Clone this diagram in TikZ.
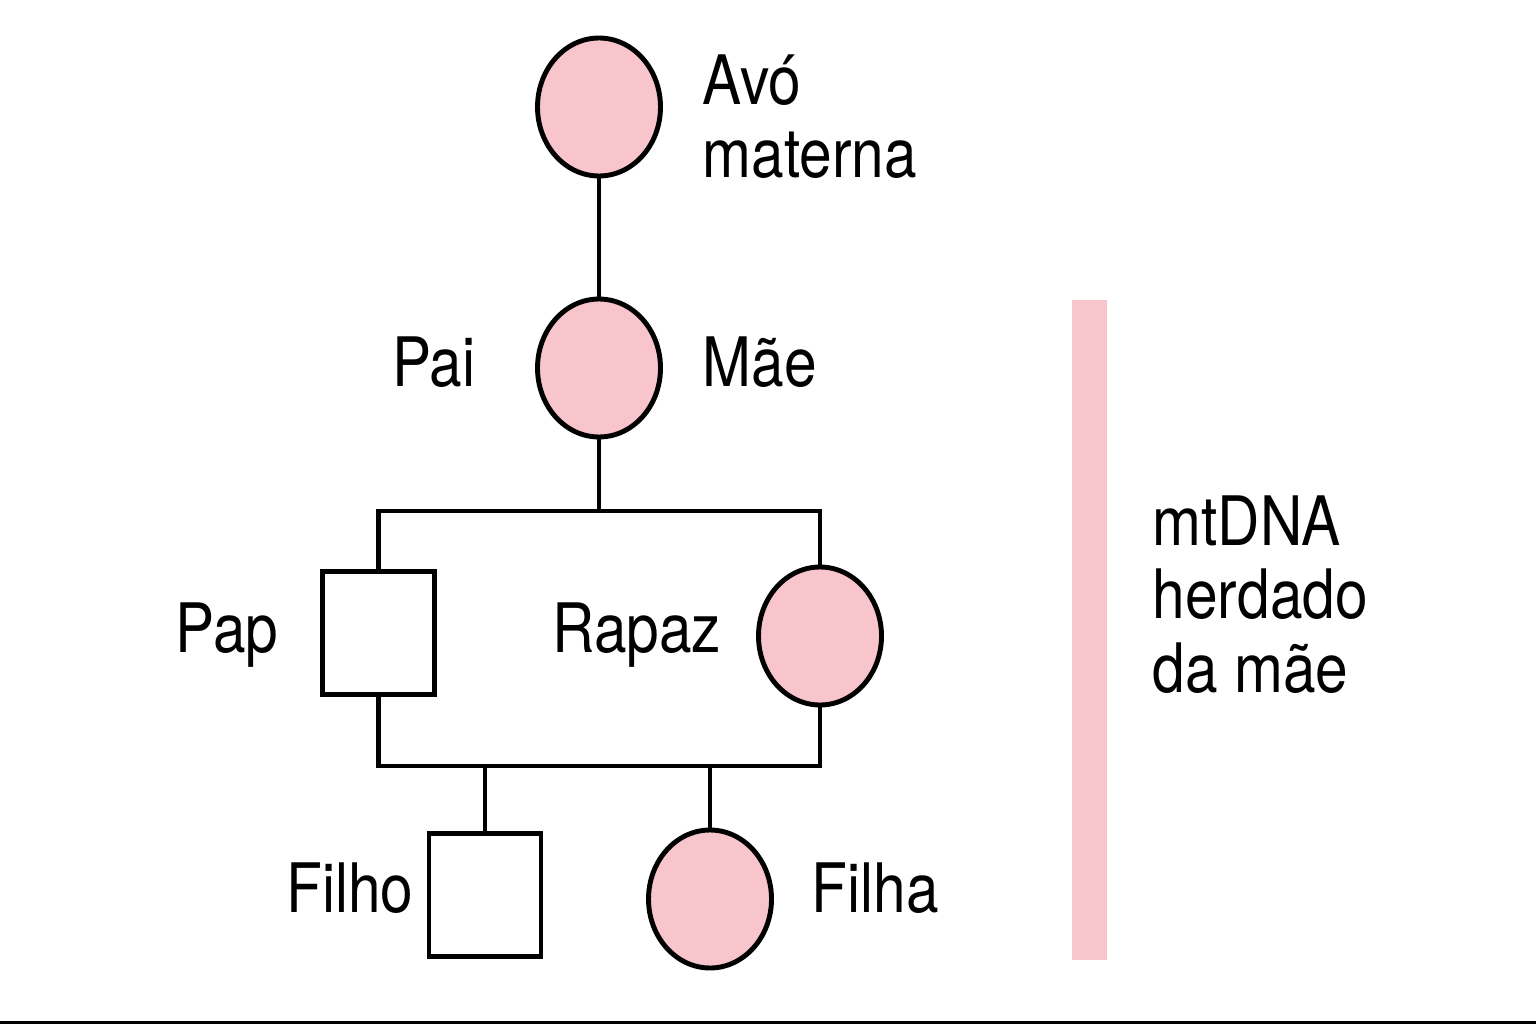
\documentclass[tikz,border=0pt]{standalone}
\usepackage{fontspec}
\setmainfont{TeX Gyre Heros}[FakeStretch=0.86]
\definecolor{mtpink}{RGB}{247,197,203}
\tikzset{
  female/.style={ellipse,draw,line width=1.4pt,fill=mtpink,minimum width=1.23cm,minimum height=1.38cm,inner sep=0pt},
  male/.style={rectangle,draw,line width=1.3pt,fill=white,minimum width=1.12cm,minimum height=1.23cm,inner sep=0pt},
  link/.style={line width=1.3pt},
  lbl/.style={inner sep=0pt,font=\fontsize{19.4}{20.8}\selectfont,align=left}
}
\usetikzlibrary{shapes.geometric}
\begin{document}
\begin{tikzpicture}
\useasboundingbox (0,0) rectangle (15.36,10.24);
%\draw[step=0.5cm,gray,very thin] (0,0) grid (15.36,10.24);

% pessoas
\node[female] (avo)   at (5.99,9.17) {};
\node[female] (mae)   at (5.99,6.56) {};
\node[male]   (pap)   at (3.785,3.91) {};
\node[female] (rapaz) at (8.20,3.88) {};
\node[male]   (filho) at (4.85,1.29) {};
\node[female] (filha) at (7.10,1.25) {};

% ligacoes
\coordinate (jtop) at (5.99,5.13);
\coordinate (jbot) at (5.99,2.58);
\draw[link] (avo.south) -- (mae.north);
\draw[link] (mae.south) -- (jtop);
\draw[link] (pap.north) |- (jtop) -| (rapaz.north);
\draw[link] (pap.south) |- (jbot) -| (rapaz.south);
\draw[link] (filho.north) -- (filho.north |- jbot);
\draw[link] (filha.north) -- (filha.north |- jbot);

% textos
\node[lbl,anchor=base west] (lavo)   at (7.02,8.46) {Avó\\materna};
\node[lbl,anchor=base east] (lpai)   at (4.76,6.38) {Pai};
\node[lbl,anchor=base west] (lmae)   at (7.02,6.38) {Mãe};
\node[lbl,anchor=base east] (lpap)   at (2.79,3.72) {Pap};
\node[lbl,anchor=base west] (lrapaz) at (5.52,3.72) {Rapaz};
\node[lbl,anchor=base east] (lfilho) at (4.14,1.12) {Filho};
\node[lbl,anchor=base west] (lfilha) at (8.11,1.12) {Filha};

% barra mtDNA
\fill[mtpink] (10.72,0.64) rectangle (11.07,7.24);
\node[lbl,anchor=base west] (lmt) at (11.52,3.32) {mtDNA\\herdado\\da mãe};

\draw[line width=0.03cm] (0,0.015) -- (15.36,0.015);
\end{tikzpicture}
\end{document}
